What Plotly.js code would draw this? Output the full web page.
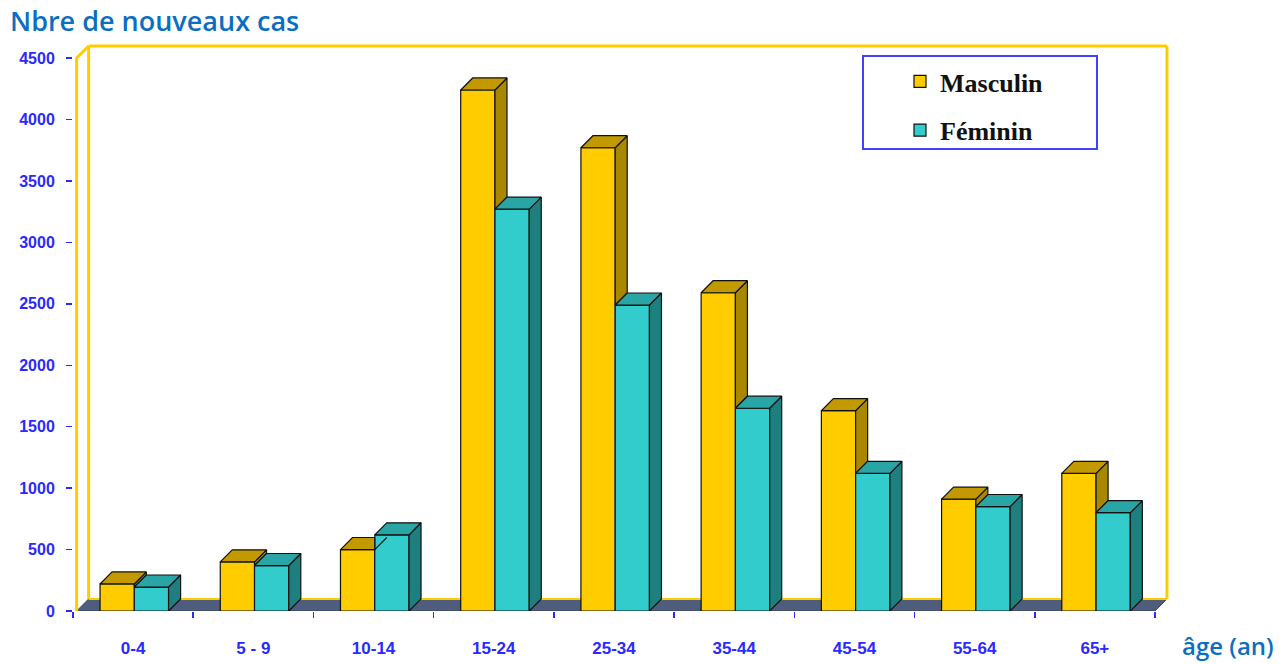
<!DOCTYPE html>
<html>
<head>
<meta charset="utf-8">
<script src="https://cdn.plot.ly/plotly-3.0.1.min.js"></script>
<style>html,body{margin:0;padding:0;background:#fff}#chart{width:1287px;height:664px}</style>
</head>
<body>
<div id="chart"></div>
<script>
const categories = ['0-4', '5 - 9', '10-14', '15-24', '25-34', '35-44', '45-54', '55-64', '65+'];
const masculin = [220, 400, 500, 4240, 3770, 2590, 1630, 910, 1120];
const feminin = [195, 370, 620, 3270, 2490, 1650, 1120, 850, 800];
const seriesNames = ['Masculin', 'Féminin'];
const yTicks = [0, 500, 1000, 1500, 2000, 2500, 3000, 3500, 4000, 4500];

// styling constants (3D look)
const DX = 0.1, DY = 98;        // depth offset in axis units
const W = 0.285;                // bar width
const OFF_M = -0.275, OFF_F = 0.01;
const colM = {front: '#ffcc00', side: '#a88800', top: '#c29a00'};
const colF = {front: '#33cccc', side: '#1e7f7f', top: '#2aa5a5'};
const edge = '#111111';

const idx = categories.map((_, i) => i);

function buildFaces(values, offset, clipAgainst) {
  const sx = [], sy = [], tx = [], ty = [];
  values.forEach((v, i) => {
    const x0 = i + offset, x1 = x0 + W;
    let sidePts, topPts;
    if (clipAgainst) {
      const o = clipAgainst[i];
      const lo = Math.min(o, v);
      sidePts = [[x1, lo], [x1, v], [x1 + DX, v + DY], [x1 + DX, lo + DY]];
      if (o >= v) topPts = [[x0, v], [x1, v], [x1, v + DY], [x0 + DX, v + DY]];
      else topPts = [[x0, v], [x1, v], [x1 + DX, v + DY], [x0 + DX, v + DY]];
    } else {
      sidePts = [[x1, 0], [x1, v], [x1 + DX, v + DY], [x1 + DX, DY]];
      topPts = [[x0, v], [x1, v], [x1 + DX, v + DY], [x0 + DX, v + DY]];
    }
    sidePts.concat([sidePts[0]]).forEach(p => { sx.push(p[0]); sy.push(p[1]); });
    sx.push(null); sy.push(null);
    topPts.concat([topPts[0]]).forEach(p => { tx.push(p[0]); ty.push(p[1]); });
    tx.push(null); ty.push(null);
  });
  return {sx, sy, tx, ty};
}

const fm = buildFaces(masculin, OFF_M, feminin);
const ff = buildFaces(feminin, OFF_F, null);

function faceTrace(x, y, color) {
  return {type: 'scatter', mode: 'lines', x: x, y: y, fill: 'toself', fillcolor: color,
    line: {color: edge, width: 1.2}, hoverinfo: 'skip', showlegend: false};
}

const data = [
  {type: 'bar', name: seriesNames[0], x: idx, y: masculin, width: W, offset: OFF_M,
   marker: {color: colM.front, line: {color: edge, width: 1.2}}, legendgroup: 'm'},
  {type: 'bar', name: seriesNames[1], x: idx, y: feminin, width: W, offset: OFF_F,
   marker: {color: colF.front, line: {color: edge, width: 1.2}}, legendgroup: 'f'},
  faceTrace(fm.sx, fm.sy, colM.side),
  faceTrace(fm.tx, fm.ty, colM.top),
  faceTrace(ff.sx, ff.sy, colF.side),
  faceTrace(ff.tx, ff.ty, colF.top)
];

const YTOP = 4500 + DY;
const yellow = '#ffcc00';
const shapes = [
  // floor
  {type: 'path', xref: 'x', yref: 'y', layer: 'below',
   path: `M -0.47,0 L 8.5,0 L ${8.5 + DX},${DY} L ${-0.47 + DX},${DY} Z`,
   fillcolor: '#4f5d7c', line: {color: '#3a4560', width: 1}},
  // back wall bottom edge
  {type: 'line', xref: 'x', yref: 'y', layer: 'below', x0: -0.47 + DX, x1: 8.5 + DX, y0: DY, y1: DY,
   line: {color: yellow, width: 2}},
  // left wall front edge
  {type: 'path', xref: 'x', yref: 'y', layer: 'below',
   path: `M -0.47,0 L -0.47,4500 L ${-0.47 + DX},${YTOP}`, line: {color: yellow, width: 3}},
  // left wall back edge
  {type: 'line', xref: 'x', yref: 'y', layer: 'below', x0: -0.47 + DX, x1: -0.47 + DX, y0: DY, y1: YTOP,
   line: {color: yellow, width: 3}},
  // top edge
  {type: 'line', xref: 'x', yref: 'y', layer: 'below', x0: -0.47 + DX, x1: 8.5 + DX, y0: YTOP, y1: YTOP,
   line: {color: yellow, width: 3}},
  // right edge
  {type: 'line', xref: 'x', yref: 'y', layer: 'below', x0: 8.5 + DX, x1: 8.5 + DX, y0: DY, y1: YTOP,
   line: {color: yellow, width: 3}},
  // legend box
  {type: 'rect', xref: 'paper', yref: 'paper', layer: 'above',
   x0: (863 - 73) / 1100, x1: (1097 - 73) / 1100, y0: (611 - 149) / 571, y1: (611 - 56) / 571,
   fillcolor: '#ffffff', line: {color: '#4040ff', width: 2}}
];

const layout = {
  width: 1287, height: 664,
  margin: {l: 73, r: 114, t: 40, b: 53, pad: 0},
  paper_bgcolor: '#ffffff', plot_bgcolor: '#ffffff',
  barmode: 'overlay',
  showlegend: true,
  title: {text: 'Nbre de nouveaux cas', xref: 'container', yref: 'container', x: 10 / 1287, xanchor: 'left',
          y: 1 - 22 / 664, yanchor: 'middle',
          font: {family: 'Open Sans', size: 27, weight: 600, color: '#0a6fc2'}},
  xaxis: {
    range: [-0.5, 8.65], type: 'linear', tickmode: 'array', tickvals: idx, ticktext: categories,
    ticks: '', showgrid: false, zeroline: false, showline: false, fixedrange: true,
    ticklabelstandoff: 25,
    tickfont: {family: 'Liberation Sans', size: 17, weight: 'bold', color: '#2a2aff'},
    minor: {tickmode: 'linear', tick0: -0.5, dtick: 1, ticks: 'outside', ticklen: 6, tickwidth: 1.5,
            tickcolor: '#2a2aff', showgrid: false}
  },
  yaxis: {
    range: [0, 4647], tickmode: 'array', tickvals: yTicks, ticktext: yTicks.map(String),
    ticks: 'outside', ticklen: 6, tickwidth: 1.5, tickcolor: '#2a2aff',
    showgrid: false, zeroline: false, showline: false, fixedrange: true,
    ticklabelstandoff: 8,
    tickfont: {family: 'Liberation Sans', size: 16, weight: 'bold', color: '#2a2aff'}
  },
  legend: {
    x: (900 - 73) / 1100, xanchor: 'left', y: (611 - 58) / 571, yanchor: 'top',
    bgcolor: 'rgba(0,0,0,0)', borderwidth: 0, tracegroupgap: 12, traceorder: 'grouped',
    font: {family: 'Liberation Serif', size: 26, weight: 'bold', color: '#111111'}
  },
  annotations: [
    {text: 'âge (an)', xref: 'paper', yref: 'paper', x: (1276 - 73) / 1100, xanchor: 'right',
     y: 0, yanchor: 'middle', yshift: -34, showarrow: false,
     font: {family: 'Open Sans', size: 24, weight: 600, color: '#0a6fc2'}}
  ],
  shapes: shapes
};

Plotly.newPlot('chart', data, layout, {displayModeBar: false, staticPlot: true});
</script>
</body>
</html>
